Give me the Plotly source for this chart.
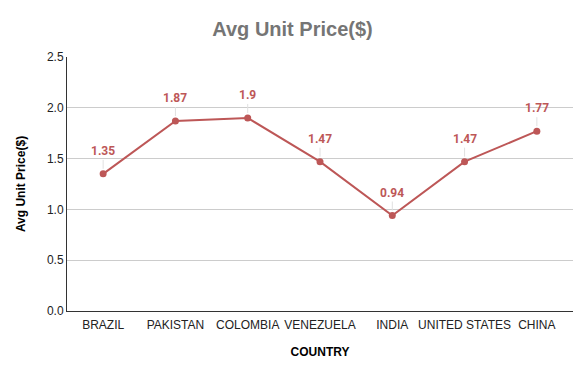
import plotly.graph_objects as go

countries = ["BRAZIL", "PAKISTAN", "COLOMBIA", "VENEZUELA", "INDIA", "UNITED STATES", "CHINA"]
prices = [1.35, 1.87, 1.9, 1.47, 0.94, 1.47, 1.77]
price_labels = ["1.35", "1.87", "1.9", "1.47", "0.94", "1.47", "1.77"]

line_color = "#bd5757"

fig = go.Figure()
fig.add_trace(go.Scatter(
    x=countries, y=prices, mode="lines+markers",
    line=dict(color=line_color, width=2),
    marker=dict(color=line_color, size=7),
    hoverinfo="skip", showlegend=False,
))

for c, v, t in zip(countries, prices, price_labels):
    fig.add_annotation(
        x=c, y=v, text="<b>%s</b>" % t,
        showarrow=True, arrowhead=0, arrowwidth=1, arrowcolor="#e0e0e0",
        ax=0, ay=-14, standoff=5, yanchor="bottom",
        font=dict(family="Roboto, Arial", size=12, color=line_color),
    )

fig.update_layout(
    width=585, height=371,
    margin=dict(l=67, r=12, t=57, b=60, autoexpand=False),
    paper_bgcolor="white", plot_bgcolor="white",
    font=dict(family="Arial", size=12, color="#222222"),
    title=dict(text="<b>Avg Unit Price($)</b>", x=0.5, xanchor="center",
               y=0.922, yanchor="middle",
               font=dict(family="Arial", size=20, color="#757575")),
    xaxis=dict(
        range=[-0.5, len(countries) - 0.5],
        showgrid=False, showline=True, linecolor="#333333", linewidth=1,
        ticks="", tickfont=dict(size=12, color="#222222"), automargin=False,
        ticklabelstandoff=3,
        title=dict(text="<b>COUNTRY</b>", font=dict(size=12, color="#000000"), standoff=16),
    ),
    yaxis=dict(
        range=[0, 2.5], dtick=0.5, tickformat=".1f",
        showgrid=True, gridcolor="#cccccc", gridwidth=1,
        showline=True, linecolor="#333333", linewidth=1,
        zeroline=False, ticks="", ticklen=0, automargin=False,
        tickfont=dict(size=12, color="#222222"),
        title=dict(text="<b>Avg Unit Price($)</b>", font=dict(size=12, color="#000000"), standoff=18),
    ),
)

fig.write_html("out.html", config={"displayModeBar": False},
               post_script="document.body.style.margin='0';")
